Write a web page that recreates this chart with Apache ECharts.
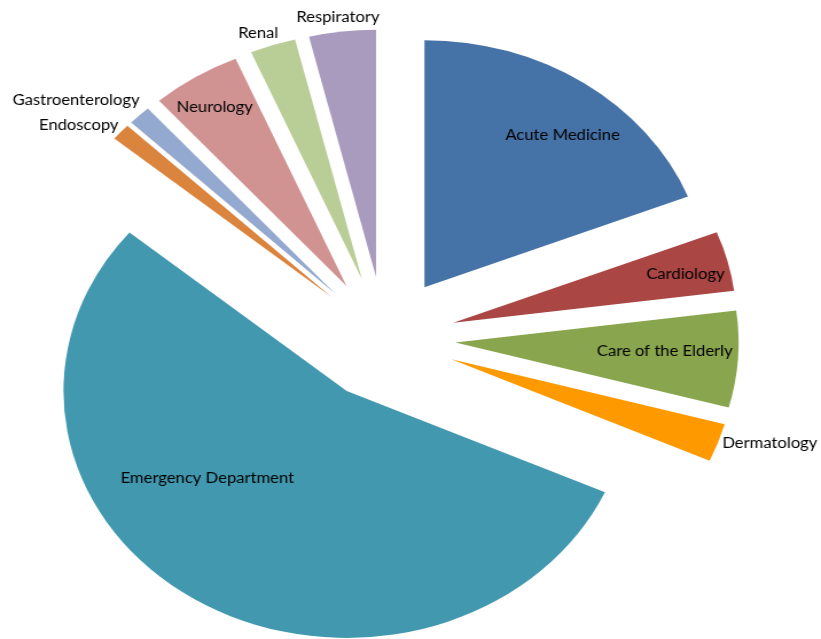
<!DOCTYPE html>
<html>
<head>
<meta charset="utf-8">
<script src="https://cdn.jsdelivr.net/npm/echarts@6/dist/echarts.min.js"></script>
<style>
  html, body { margin: 0; padding: 0; background: #ffffff; overflow: hidden; }
  #wrap { width: 821px; height: 639px; overflow: hidden; }
  #chart { width: 716px; height: 639px; transform: scaleX(1.1466); transform-origin: 0 0; }
</style>
</head>
<body>
<div id="wrap"><div id="chart"></div></div>
<script>
// ---- data ----
const categories = ["Acute Medicine", "Cardiology", "Care of the Elderly", "Dermatology",
  "Emergency Department", "Endoscopy", "Gastroenterology", "Neurology", "Renal", "Respiratory"];
const values = [19.0, 3.9, 6.3, 2.5, 54.3, 1.1, 1.3, 5.1, 2.6, 3.8];

// ---- styles / layout ----
const colors = ["#4572A7", "#AA4643", "#89A54E", "#FF9900", "#4198AF",
  "#DB843D", "#93A9CF", "#D19392", "#B9CD96", "#A99BBD"];
const outsideLabels = ["Dermatology", "Endoscopy", "Gastroenterology", "Renal", "Respiratory"];
const labelNudge = [[49.3, -47], [80, -17], [56.4, 0], [-5, -1], [-54.4, -20],
  [6, -4], [8, -12], [-47.4, -72], [11, -8], [38, -10]];

const chart = echarts.init(document.getElementById('chart'), null, { renderer: 'canvas' });
const dataItems = categories.map((c, i) => {
  const isOut = outsideLabels.indexOf(c) >= 0;
  return {
    name: c,
    value: values[i],
    selected: true,
    itemStyle: { color: colors[i] },
    label: { position: isOut ? 'outside' : 'inside' }
  };
});

chart.setOption({
  animation: false,
  backgroundColor: '#ffffff',
  series: [{
    type: 'pie',
    center: [335.3, 338.4],
    radius: 247,
    startAngle: 90,
    clockwise: true,
    selectedMode: 'multiple',
    selectedOffset: 62,
    avoidLabelOverlap: false,
    emphasis: { disabled: true },
    select: { itemStyle: {} },
    label: {
      show: true,
      formatter: '{b}',
      fontFamily: 'Lato',
      fontSize: 14.5,
      color: '#000000',
      textBorderWidth: 0
    },
    labelLine: { show: false, length: 4, length2: 0 },
    labelLayout: function (p) {
      const n = labelNudge[p.dataIndex];
      return { dx: n[0], dy: n[1] };
    },
    itemStyle: { borderWidth: 0 },
    data: dataItems
  }]
});
</script>
</body>
</html>
